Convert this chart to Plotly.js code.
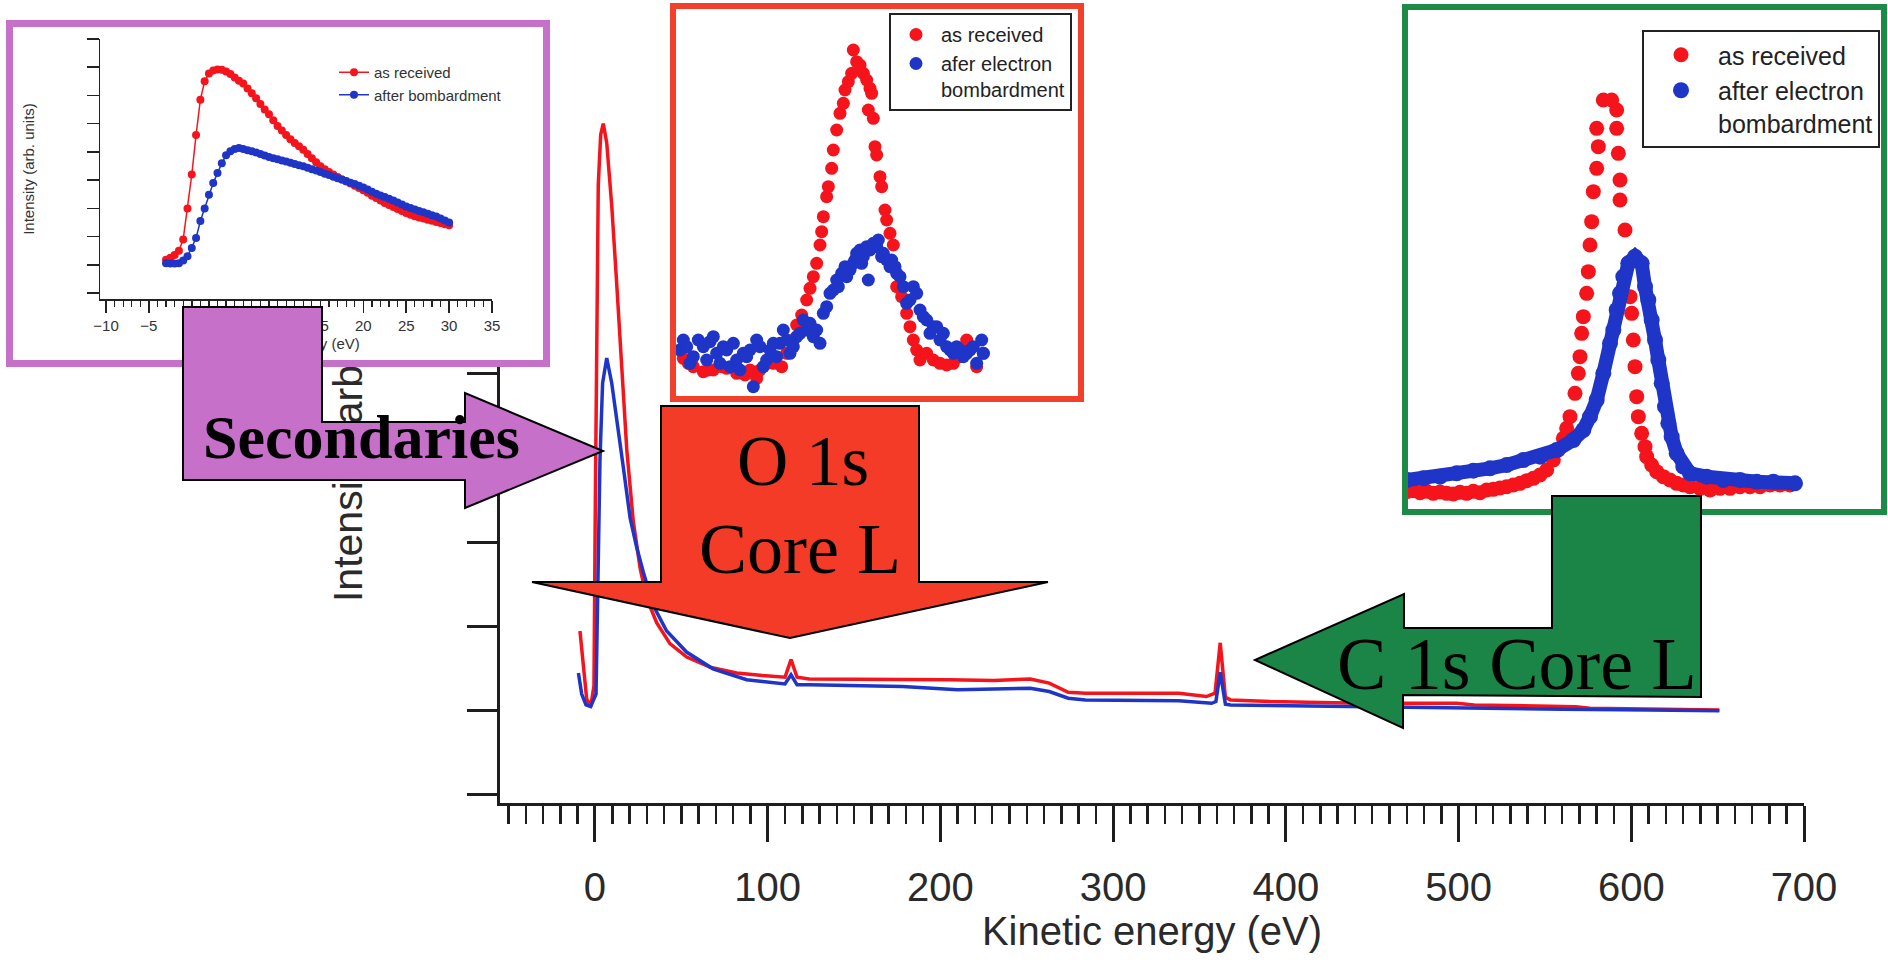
<!DOCTYPE html>
<html>
<head>
<meta charset="utf-8">
<script src="https://cdn.plot.ly/plotly-3.0.1.min.js"></script>
<style>
  html, body { margin: 0; padding: 0; background: #ffffff; }
  #chart { width: 1888px; height: 965px; }
</style>
</head>
<body>
<div id="chart"></div>
<script>
// ---------------- DATA ----------------
// Main survey spectrum (kinetic energy in eV, intensity in arb. units)
var mainKE_red = [-8.7,-6.8,-4.8,-2.5,-0.6,0.2,1.0,1.9,3.3,4.8,6.8,9.7,12.5,15.4,18.4,22.2,26.1,29.9,35.7,43.4,53.1,66.6,82,97,110,113.5,117,124,150,178,205,231,252,263,274,284,310,338,354,359,362,365,368,391,420,445,475,499,509,540,568,576,610,651];
var mainRed    = [1.94,1.49,1.13,1.04,1.29,3.49,6.0,7.25,7.85,7.98,7.75,7.0,6.1,5.1,4.1,3.24,2.69,2.33,2.04,1.79,1.63,1.51,1.44,1.41,1.39,1.6,1.39,1.37,1.37,1.36,1.36,1.35,1.37,1.32,1.21,1.2,1.2,1.2,1.16,1.2,1.8,1.15,1.12,1.1,1.09,1.08,1.08,1.08,1.06,1.05,1.04,1.02,1.01,1.0];
var mainKE_blue = [-9.6,-7.7,-5.2,-2.5,0.6,1.9,2.9,4.4,6.8,9.7,12.5,16.4,20.3,24.1,28,33.8,41.5,53,68.3,87.8,97,110,113.5,117,124,178,210,252,263,274,284,338,357,359.5,362,365,368,400,445,509,560,610,651];
var mainBlue    = [1.44,1.19,1.06,1.04,1.19,2.99,3.99,4.89,5.19,4.89,4.49,3.89,3.29,2.94,2.64,2.24,1.94,1.69,1.49,1.36,1.34,1.31,1.42,1.3,1.30,1.28,1.24,1.26,1.22,1.14,1.12,1.11,1.08,1.1,1.45,1.07,1.06,1.05,1.04,1.02,1.01,1.0,0.99];

// Secondaries inset
var secKE = [-3,-2.5,-2,-1.5,-1,-0.5,0,0.5,1,1.5,2,2.5,3,3.5,4,4.5,5,5.5,6,6.5,7,7.5,8,8.5,9,9.5,10,10.5,11,11.5,12,12.5,13,13.5,14,14.5,15,15.5,16,16.5,17,17.5,18,18.5,19,19.5,20,20.5,21,21.5,22,22.5,23,23.5,24,24.5,25,25.5,26,26.5,27,27.5,28,28.5,29,29.5,30];
var secRed = [1.18,1.25,1.35,1.5,1.9,3.0,4.2,5.6,6.85,7.5,7.78,7.88,7.92,7.91,7.85,7.76,7.64,7.52,7.42,7.25,7.08,6.9,6.7,6.5,6.33,6.12,5.92,5.76,5.6,5.45,5.32,5.2,5.08,4.93,4.78,4.63,4.49,4.39,4.29,4.2,4.11,4.02,3.95,3.88,3.8,3.72,3.64,3.55,3.45,3.37,3.28,3.19,3.12,3.05,2.98,2.91,2.84,2.77,2.72,2.68,2.64,2.6,2.56,2.52,2.48,2.44,2.4];
var secBlue = [1.06,1.05,1.05,1.06,1.15,1.3,1.6,1.95,2.55,3.0,3.48,3.9,4.25,4.6,4.88,5.02,5.1,5.14,5.1,5.06,5.02,4.98,4.93,4.87,4.82,4.78,4.74,4.7,4.66,4.62,4.57,4.53,4.49,4.44,4.39,4.34,4.29,4.23,4.18,4.12,4.07,4.02,3.97,3.91,3.86,3.8,3.74,3.67,3.59,3.52,3.46,3.4,3.34,3.28,3.21,3.14,3.07,3.01,2.96,2.91,2.86,2.81,2.76,2.71,2.64,2.57,2.5];

// O 1s inset (arb. energy channel, arb. intensity)
var o1sRedX = [7,8.5,10,13,14.5,16,18.5,20,23,25.5,27,29,30,32,34,36.5,38,40,41,42.5,44,45,46,47,48,48.5,49,50,50.5,51.5,52,53,54,55,55.5,56.5,57.5,58,59,60,61,62,63,63.5,62.5,64,64.5,65,66,66.5,67.5,68,69,70,71,72.5,74,75,76,77,78,80,82,84,86,88,90,92,93,95,97];
var o1sRedY = [15.5,14,13,11.5,12,12,13,12.5,11,10.5,12,9.5,12,14,14,13,17,21,25.5,28.5,33,36.5,40,44,49.5,53.5,58,64,67,72.5,78,84,89,92,96,98.5,101,108,104.5,103.5,101,99,96.5,95,90,87.5,79,76.5,70,67,60,57,53,49.5,37,34,29,25,21,18,15,17,15,14,13.5,14,16,21,18,13,17];
var o1sBlueX = [6,7,8,9,10,11.5,13,14,15,16,17,18,19,20,21,22,23,24,25,26,27,28,29,30,31,32,33,34,35,36,37,38,39,40,41,42,43,44,45,46,47,48,49,50,51,52,53,53.5,54.5,55.5,56,57,58,58.5,59,60,60.5,61,62,62.5,63,64,65,65.5,66.5,67,68,69,69.5,70.5,71,72,73,74,75,76,77,78,79,80,81,82,83,84,85,86,87,88,89,90,91,92,93,94,95,96.5,97];
var o1sBlueY = [18,21,19,14,16,21,19,15,20.5,22,17,14,19,18,13,20,15,12,17,16,18,7,21,19,13,15,18,20,16,20,24,21,17,19,22,23,27,24,26,22,24,20,29,31,35,36,39,37,41,43,40,42,44,45,47,48,44,46,49,39,48,50,49,51,46,47,45,43,45,43,41,40,37,32,33,37,35,30,28,27,23,25,25,21,23,19,18,17,19,18,16,17,18,19,14,21,17];

// C 1s inset (arb. energy channel, arb. intensity)
var c1sRedX = [5,7,9,11,13,15,17,19,21,23,25,27,29,31,33,35,37,39,41,43,45,47,49,50.5,52,53,54,55.5,56.5,57,57.5,58,59,59.5,60,60.5,61,62,62.5,62,64,66.5,68,68,68.5,69,69,70.5,71.5,72,72.5,73,73.5,74,74.5,75.5,76.5,77,78.5,80,82,84,86,88,90,93,96,99,102,105,108,111,114,117,120];
var c1sRedY = [8.5,8.8,8.2,8.6,8.0,8.4,8.0,7.8,8.3,8.0,8.6,8.2,9.0,9.2,9.6,10.0,10.5,11.0,11.8,12.5,13.5,15.0,18.0,21.0,24.5,27.5,31.0,38.0,44.0,49.0,56.0,61.0,68.0,74.5,82.5,89.5,98.5,105.5,112.0,117.5,126.0,126.0,123.0,117.5,110.0,102.0,96.0,87.0,77.0,67.0,62.0,54.0,46.0,37.0,31.0,26.0,22.0,19.0,16.5,14.5,13.0,12.0,11.0,10.5,10.0,9.5,9.0,9.5,9.5,10.0,10.0,10.0,10.5,10.5,10.5];
var c1sBlueX = [5,10,15,20,25,30,35,40,45,50,55,58,60,62,64,66,67,68,69,70,71.5,73.5,75.5,76.5,77.5,78.5,79.5,80.5,81.5,82.5,83.5,84.5,86,88,90,95,100,105,110,115,121.5];
var c1sBlueY = [12.0,12.5,13.0,14.0,14.8,15.5,16.5,18.0,19.0,21.0,24.0,27.0,31.0,36.0,44.0,53.0,57.0,63.0,68.0,73.0,77.0,79.0,77.0,70.0,66.0,60.0,54.0,48.0,41.0,34.0,29.0,25.0,20.0,16.0,14.0,13.0,12.0,12.0,11.5,11.5,11.0];

var labelRecv = 'as received';
var labelBomb = 'after bombardment';
var labelO1sBlue = 'afer electron<br>bombardment';
var labelC1sBlue = 'after electron<br>bombardment';

// ---------------- LAYOUT HELPERS ----------------
var W = 1888, H = 965;
function px(x) { return x / W; }
function py(y) { return 1 - y / H; }
function pathFrom(pts) {
  return 'M' + pts.map(function (p) { return (p[0] / W).toFixed(5) + ',' + (1 - p[1] / H).toFixed(5); }).join('L') + 'Z';
}
var SANS = 'Liberation Sans, Arial, Helvetica, sans-serif';
var SERIF = 'Liberation Serif, Times New Roman, serif';
var RED = '#f5141c', BLUE = '#1f35c8';
var PURPLE = '#c670ca', ORANGE = '#f43b27', GREEN = '#1b8447';

function boxAxis(extra, color) {
  return Object.assign({ showline: true, mirror: true, linecolor: color, linewidth: 6,
    showgrid: false, zeroline: false, ticks: '', showticklabels: false, fixedrange: true }, extra);
}

// ---------------- TRACES ----------------
var data = [
  { x: mainKE_red, y: mainRed, xaxis: 'x', yaxis: 'y', mode: 'lines', line: { color: RED, width: 3.5 }, showlegend: false },
  { x: mainKE_blue, y: mainBlue, xaxis: 'x', yaxis: 'y', mode: 'lines', line: { color: BLUE, width: 3.5 }, showlegend: false },
  { x: [], y: [], xaxis: 'x2', yaxis: 'y2', mode: 'markers', showlegend: false },
  { x: secKE, y: secRed, xaxis: 'x3', yaxis: 'y3', mode: 'lines+markers', name: labelRecv, legend: 'legend2',
    line: { color: RED, width: 1.5 }, marker: { color: RED, size: 8 } },
  { x: secKE, y: secBlue, xaxis: 'x3', yaxis: 'y3', mode: 'lines+markers', name: labelBomb, legend: 'legend2',
    line: { color: BLUE, width: 1.5 }, marker: { color: BLUE, size: 8 } },
  { x: o1sRedX, y: o1sRedY, xaxis: 'x4', yaxis: 'y4', mode: 'markers', name: labelRecv, legend: 'legend3',
    marker: { color: RED, size: 13 } },
  { x: o1sBlueX, y: o1sBlueY, xaxis: 'x4', yaxis: 'y4', mode: 'markers', name: labelO1sBlue, legend: 'legend3',
    marker: { color: BLUE, size: 13 } },
  { x: c1sRedX, y: c1sRedY, xaxis: 'x5', yaxis: 'y5', mode: 'markers', name: labelRecv, legend: 'legend4',
    marker: { color: RED, size: 15 } },
  { x: c1sBlueX, y: c1sBlueY, xaxis: 'x5', yaxis: 'y5', mode: 'lines', showlegend: false,
    line: { color: BLUE, width: 14 } },
  { x: c1sBlueX, y: c1sBlueY, xaxis: 'x5', yaxis: 'y5', mode: 'markers', name: labelC1sBlue, legend: 'legend4',
    marker: { color: BLUE, size: 16 } }
];

var layout = {
  width: W, height: H,
  margin: { l: 0, r: 0, t: 0, b: 0 },
  paper_bgcolor: '#ffffff', plot_bgcolor: '#ffffff',
  showlegend: true,
  font: { family: SANS, color: '#2a2a2a' },
  xaxis: {
    domain: [px(500), px(1804)], range: [-55, 700], anchor: 'y',
    showline: true, linecolor: '#1e1e1e', linewidth: 3,
    ticks: 'outside', ticklen: 36, tickwidth: 3, tickcolor: '#1e1e1e',
    tick0: 0, dtick: 100, showgrid: false, zeroline: false, ticklabelstandoff: 11,
    minor: { dtick: 10, ticks: 'outside', ticklen: 18, tickwidth: 2.5, tickcolor: '#1e1e1e', showgrid: false },
    tickfont: { family: SANS, size: 40, color: '#2a2a2a' },
    title: { text: 'Kinetic energy (eV)', font: { family: SANS, size: 40, color: '#2a2a2a' }, standoff: 8 }
  },
  yaxis: {
    domain: [py(803), py(41)], range: [-0.107, 8.964], anchor: 'x',
    showline: true, linecolor: '#1e1e1e', linewidth: 3,
    ticks: 'outside', ticklen: 30, tickwidth: 3, tickcolor: '#1e1e1e',
    tick0: 0, dtick: 1, showticklabels: false, showgrid: false, zeroline: false,
    title: { text: 'Intensity (arb. units)', font: { family: SANS, size: 41, color: '#2a2a2a' }, standoff: 92 }
  },
  // purple inset frame
  xaxis2: boxAxis({ domain: [px(13), px(543)], range: [0, 1], anchor: 'y2', linewidth: 7 }, PURPLE),
  yaxis2: boxAxis({ domain: [py(360), py(27)], range: [0, 1], anchor: 'x2', linewidth: 7 }, PURPLE),
  // purple inset axes
  xaxis3: {
    domain: [px(100), px(492)], range: [-10.7, 35], anchor: 'y3',
    showline: true, linecolor: '#222', linewidth: 1.5,
    ticks: 'outside', ticklen: 12, tickwidth: 1.5, tickcolor: '#222', tick0: 0, dtick: 5,
    minor: { dtick: 1, ticks: 'outside', ticklen: 6, tickwidth: 1.2, tickcolor: '#222', showgrid: false },
    showgrid: false, zeroline: false,
    tickfont: { family: SANS, size: 15, color: '#333' },
    title: { text: 'Kinetic energy (eV)', font: { family: SANS, size: 15, color: '#333' }, standoff: 6 }
  },
  yaxis3: {
    domain: [py(299), py(39)], range: [-0.21, 9.0], anchor: 'x3',
    showline: true, linecolor: '#222', linewidth: 1.5,
    ticks: 'outside', ticklen: 12, tickwidth: 1.5, tickcolor: '#222', tick0: 0, dtick: 1,
    showticklabels: false, showgrid: false, zeroline: false,
    title: { text: 'Intensity (arb. units)', font: { family: SANS, size: 15, color: '#333' }, standoff: 48 }
  },
  // O 1s inset
  xaxis4: boxAxis({ domain: [px(676), px(1078)], range: [4.8, 125.4], anchor: 'y4' }, '#f1412d'),
  yaxis4: boxAxis({ domain: [py(396), py(9)], range: [4.2, 120.3], anchor: 'x4' }, '#f1412d'),
  // C 1s inset
  xaxis5: boxAxis({ domain: [px(1408), px(1881)], range: [5.4, 147.3], anchor: 'y5' }, '#1d8a47'),
  yaxis5: boxAxis({ domain: [py(509), py(10)], range: [3.3, 153], anchor: 'x5' }, '#1d8a47'),
  legend: { visible: false },
  legend2: {
    x: px(334), y: py(56), xanchor: 'left', yanchor: 'top',
    bgcolor: 'rgba(255,255,255,0)', borderwidth: 0,
    font: { family: SANS, size: 15, color: '#333' }, tracegroupgap: 0, itemwidth: 30
  },
  legend3: {
    x: px(889), y: py(13), xanchor: 'left', yanchor: 'top',
    bgcolor: '#ffffff', bordercolor: '#222', borderwidth: 2, valign: 'top',
    font: { family: SANS, size: 20, color: '#222' }, tracegroupgap: 0, itemwidth: 40
  },
  legend4: {
    x: px(1642), y: py(30), xanchor: 'left', yanchor: 'top',
    bgcolor: '#ffffff', bordercolor: '#222', borderwidth: 2, valign: 'top',
    font: { family: SANS, size: 25, color: '#222' }, tracegroupgap: 0, itemwidth: 64
  },
  shapes: [
    { type: 'path', xref: 'paper', yref: 'paper', layer: 'above', fillcolor: PURPLE, line: { color: '#000', width: 2 },
      path: pathFrom([[183,307],[322,307],[322,422],[465,422],[465,393],[603,451],[465,508],[465,480],[183,480]]) },
    { type: 'path', xref: 'paper', yref: 'paper', layer: 'above', fillcolor: ORANGE, line: { color: '#000', width: 2 },
      path: pathFrom([[661,406],[919,406],[919,582],[1048,582],[790,638],[532,582],[661,582]]) },
    { type: 'path', xref: 'paper', yref: 'paper', layer: 'above', fillcolor: GREEN, line: { color: '#000', width: 2 },
      path: pathFrom([[1552,496],[1701,496],[1701,697],[1403,695],[1403,728],[1255,660],[1404,594],[1404,628],[1552,628]]) }
  ],
  annotations: [
    { text: '<b>Secondaries</b>', x: px(361), y: py(437), xref: 'paper', yref: 'paper', showarrow: false,
      xanchor: 'center', yanchor: 'middle', font: { family: SERIF, size: 62, color: '#000' } },
    { text: 'O 1s', x: px(803), y: py(461), xref: 'paper', yref: 'paper', showarrow: false,
      xanchor: 'center', yanchor: 'middle', font: { family: SERIF, size: 71, color: '#000' } },
    { text: 'Core L', x: px(800), y: py(549), xref: 'paper', yref: 'paper', showarrow: false,
      xanchor: 'center', yanchor: 'middle', font: { family: SERIF, size: 72, color: '#000' } },
    { text: 'C 1s Core L', x: px(1517), y: py(664), xref: 'paper', yref: 'paper', showarrow: false,
      xanchor: 'center', yanchor: 'middle', font: { family: SERIF, size: 74, color: '#000' } }
  ]
};

Plotly.newPlot('chart', data, layout, { staticPlot: true, displayModeBar: false }).then(function (gd) {
  var fl = gd._fullLayout;
  var cart = fl._cartesianlayer.node();
  var info = fl._infolayer.node();
  var xyg = fl._plots.xy && fl._plots.xy.plotgroup ? fl._plots.xy.plotgroup.node() : null;
  var yt = info.querySelector('.g-ytitle');
  if (yt && xyg) cart.insertBefore(yt, xyg.nextSibling);
  var x3t = info.querySelector('.g-x3title');
  if (x3t) cart.appendChild(x3t);
});
</script>
</body>
</html>
